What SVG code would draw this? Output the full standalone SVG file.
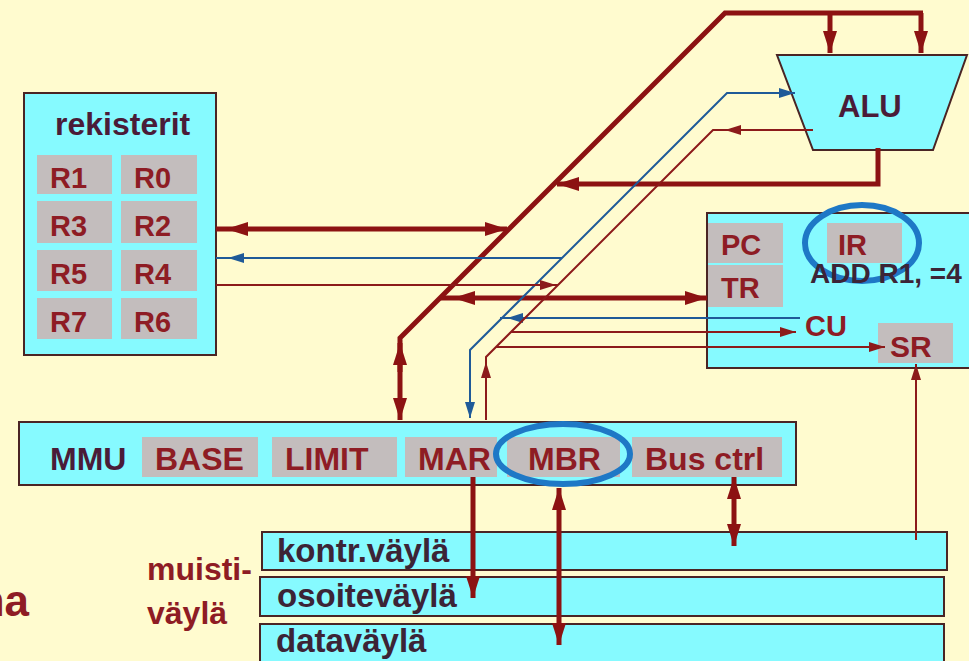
<svg xmlns="http://www.w3.org/2000/svg" width="969" height="661" viewBox="0 0 969 661">
<defs>
<marker id="aT" markerUnits="userSpaceOnUse" markerWidth="24" markerHeight="16" refX="22" refY="8" orient="auto-start-reverse"><path d="M0,1 L22,8 L0,15 z" fill="#8C1212"/></marker>
<marker id="aS" markerUnits="userSpaceOnUse" markerWidth="17" markerHeight="12" refX="16" refY="6" orient="auto-start-reverse"><path d="M0,1 L16,6 L0,11 z" fill="#8C1A1A"/></marker>
<marker id="aB" markerUnits="userSpaceOnUse" markerWidth="17" markerHeight="12" refX="16" refY="6" orient="auto-start-reverse"><path d="M0,1 L16,6 L0,11 z" fill="#1F5A98"/></marker>
</defs>
<style>
.box{fill:#86FAFF;stroke:#4A2424;stroke-width:2}
.cell{fill:#C3BDBD}
.t{font-family:"Liberation Sans",Arial,sans-serif;font-weight:bold}
.red{fill:#8E1C24}
.dk{fill:#4A1C38}
.bus{fill:#3C2436}
.thick{fill:none;stroke:#8C1212;stroke-width:5}
.thin{fill:none;stroke:#8C1A1A;stroke-width:2}
.blue{fill:none;stroke:#1F5A98;stroke-width:2}
.ring{fill:none;stroke:#1E78C6;stroke-width:6}
</style>
<rect width="969" height="661" fill="#FFFBCF"/>

<g id="registers">
<rect class="box" x="24" y="93" width="192" height="262"/>
<text class="t dk" x="55" y="135" font-size="32">rekisterit</text>
<rect class="cell" x="37" y="155" width="75" height="39"/>
<rect class="cell" x="121" y="155" width="76" height="39"/>
<rect class="cell" x="37" y="201" width="75" height="42"/>
<rect class="cell" x="121" y="201" width="76" height="42"/>
<rect class="cell" x="37" y="250" width="75" height="41"/>
<rect class="cell" x="121" y="250" width="76" height="41"/>
<rect class="cell" x="37" y="298" width="75" height="41"/>
<rect class="cell" x="121" y="298" width="76" height="41"/>
<g class="t red" font-size="29">
<text x="50" y="188">R1</text><text x="134" y="188">R0</text>
<text x="50" y="236">R3</text><text x="134" y="236">R2</text>
<text x="50" y="284">R5</text><text x="134" y="284">R4</text>
<text x="50" y="332">R7</text><text x="134" y="332">R6</text>
</g>
</g>

<g id="alu">
<polygon class="box" points="777,55 967,55 933,150 813,150"/>
<text class="t dk" x="838" y="117" font-size="31">ALU</text>
</g>

<g id="cu">
<rect class="box" x="707" y="213" width="270" height="155"/>
<rect class="cell" x="708" y="223" width="75" height="40"/>
<rect class="cell" x="708" y="265" width="75" height="42"/>
<rect class="cell" x="827" y="223" width="75" height="40"/>
<rect class="cell" x="878" y="323" width="75" height="40"/>
<ellipse class="ring" cx="862" cy="243" rx="57" ry="38"/>
<g class="t red" font-size="29">
<text x="721" y="255">PC</text>
<text x="721" y="298">TR</text>
<text x="838" y="255">IR</text>
<text x="805" y="336">CU</text>
<text x="890" y="357" font-size="30">SR</text>
</g>
<text class="t bus" x="810" y="283" font-size="28">ADD R1, =4</text>
</g>

<g id="mmu">
<rect class="box" x="19" y="422" width="777" height="63"/>
<rect class="cell" x="142" y="437" width="116" height="40"/>
<rect class="cell" x="272" y="437" width="125" height="40"/>
<rect class="cell" x="405" y="437" width="92" height="40"/>
<rect class="cell" x="507" y="437" width="113" height="40"/>
<rect class="cell" x="632" y="437" width="150" height="40"/>
<text class="t dk" x="50" y="470" font-size="32">MMU</text>
<g class="t red" font-size="32">
<text x="155" y="470">BASE</text>
<text x="285" y="470">LIMIT</text>
<text x="418" y="470">MAR</text>
<text x="528" y="470">MBR</text>
<text x="645" y="470">Bus ctrl</text>
</g>
<ellipse class="ring" cx="563" cy="454" rx="67" ry="30"/>
</g>

<g id="bus-kontr">
<rect class="box" x="262" y="532" width="685" height="38"/>
<text class="t bus" x="277" y="562" font-size="33">kontr.väylä</text>
</g>
<g id="bus-osoite">
<rect class="box" x="260" y="577" width="684" height="39"/>
<text class="t bus" x="277" y="607" font-size="33">osoiteväylä</text>
</g>
<g id="bus-data">
<rect class="box" x="260" y="624" width="684" height="45"/>
<text class="t bus" x="276" y="652" font-size="33">dataväylä</text>
</g>

<g id="label-muistivayla">
<text class="t red" x="147" y="580" font-size="32">muisti-</text>
<text class="t red" x="147" y="624" font-size="32">väylä</text>
</g>
<g id="label-na">
<text class="t red" x="29" y="616" font-size="44" text-anchor="end">na</text>
</g>

<g id="connectors">
<!-- main thick bus -->
<path class="thick" d="M923 13 L725 13 L400 338 L400 420" marker-end="url(#aT)"/>
<path class="thick" d="M400 372 L400 343" marker-end="url(#aT)"/>
<path class="thick" d="M830 13 L830 53" marker-end="url(#aT)"/>
<path class="thick" d="M921 13 L921 53" marker-end="url(#aT)"/>
<path class="thick" d="M878 148 L878 184 L557 184" marker-end="url(#aT)"/>
<path class="thick" d="M216 229 L226 229"/>
<path class="thick" d="M226 229 L507 229" marker-start="url(#aT)" marker-end="url(#aT)"/>
<path class="thick" d="M441 298 L453 298"/>
<path class="thick" d="M453 298 L707 298" marker-start="url(#aT)" marker-end="url(#aT)"/>
<path class="thick" d="M473 477 L473 598" marker-end="url(#aT)"/>
<path class="thick" d="M559 488 L559 645" marker-start="url(#aT)" marker-end="url(#aT)"/>
<path class="thick" d="M734 477 L734 546" marker-start="url(#aT)" marker-end="url(#aT)"/>
<!-- blue control lines -->
<path class="blue" d="M795 93 L727 93 L470 350 L470 418" marker-start="url(#aB)" marker-end="url(#aB)"/>
<path class="blue" d="M216 258 L562 258"/>
<path class="blue" d="M248 258 L228 258" marker-end="url(#aB)"/>
<path class="blue" d="M800 318 L500 318"/>
<path class="blue" d="M527 318 L507 318" marker-end="url(#aB)"/>
<!-- thin maroon lines -->
<path class="thin" d="M813 130 L713 130 L486 357 L486 420"/>
<path class="thin" d="M745 130 L725 130" marker-end="url(#aS)"/>
<path class="thin" d="M486 382 L486 362" marker-end="url(#aS)"/>
<path class="thin" d="M216 285 L558 285"/>
<path class="thin" d="M535 285 L556 285" marker-end="url(#aS)"/>
<path class="thin" d="M511 332 L796 332" marker-end="url(#aS)"/>
<path class="thin" d="M496 347 L885 347" marker-end="url(#aS)"/>
<path class="thin" d="M916 540 L916 364" marker-end="url(#aS)"/>
</g>
</svg>
